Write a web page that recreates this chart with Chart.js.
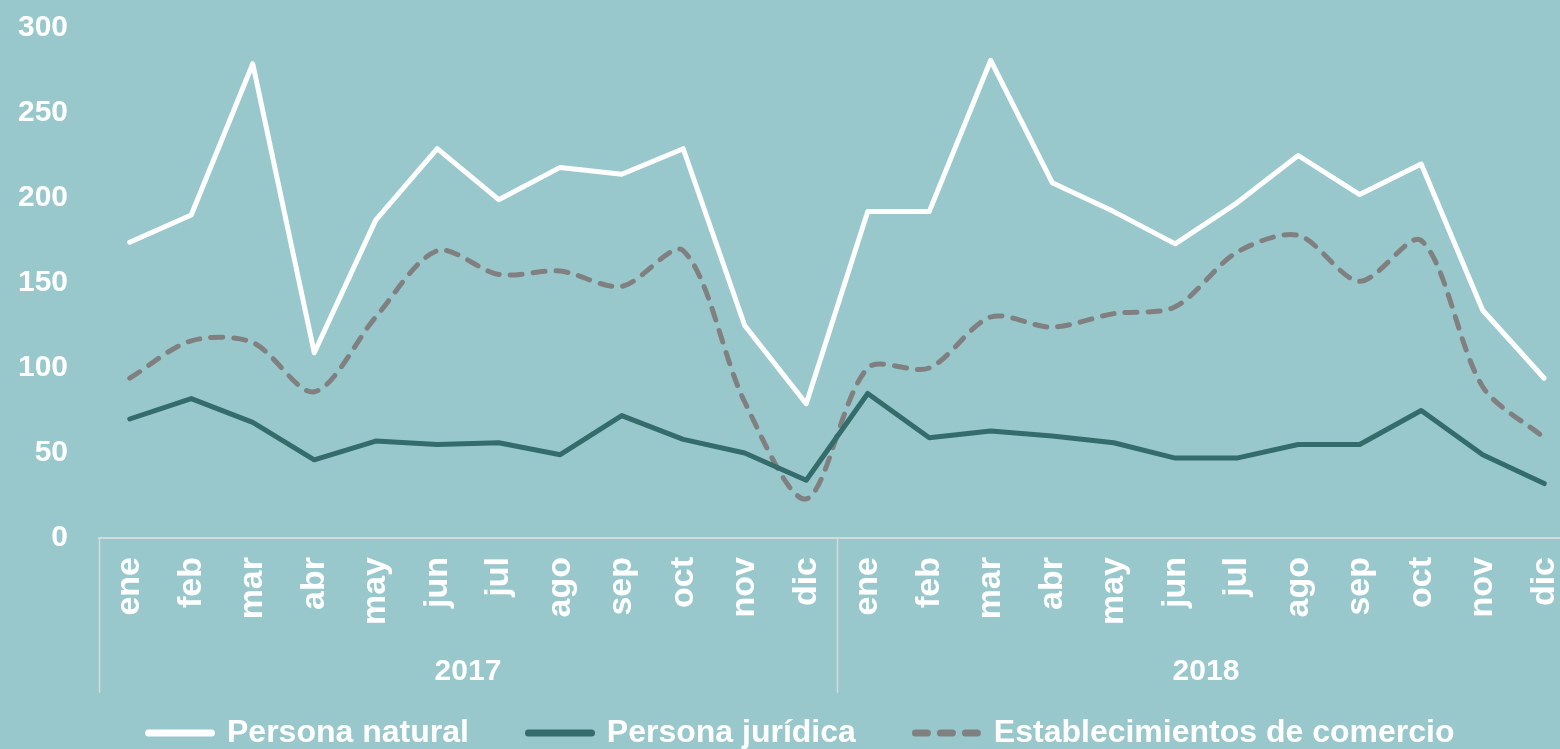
<!DOCTYPE html>
<html>
<head>
<meta charset="utf-8">
<script src="https://cdn.jsdelivr.net/npm/chart.js@4.4.1/dist/chart.umd.min.js"></script>
<style>
  html, body { margin: 0; padding: 0; background: #98C8CC; overflow: hidden; width: 1560px; height: 749px; }
  #wrap { width: 1585px; height: 749px; }
</style>
</head>
<body>
<div id="wrap"><canvas id="c" width="1585" height="749"></canvas></div>
<script>
const months = ['ene','feb','mar','abr','may','jun','jul','ago','sep','oct','nov','dic',
                'ene','feb','mar','abr','may','jun','jul','ago','sep','oct','nov','dic'];
const years = ['2017', '2018'];
const yTicks = [0, 50, 100, 150, 200, 250, 300];
const personaNatural = [174, 190, 279, 109, 187, 229, 199, 218, 214, 229, 125, 79,
                        192, 192, 281, 209, 192, 173, 197, 225, 202, 220, 134, 94];
const personaJuridica = [70, 82, 68, 46, 57, 55, 56, 49, 72, 58, 50, 34,
                         85, 59, 63, 60, 56, 47, 47, 55, 55, 75, 49, 32];
const establecimientos = [94, 116, 115, 86, 130, 169, 155, 157, 148, 169, 80, 23,
                          100, 100, 130, 124, 132, 136, 168, 178, 151, 175, 89, 59];

const FONT = "'Liberation Sans', Arial, sans-serif";
const AXIS_LINE = '#D6DADB';

// legend marker: a short thick line (solid or dashed)
function legendMarker(color, dash) {
  const c = document.createElement('canvas');
  c.width = 70; c.height = 10;
  const g = c.getContext('2d');
  g.strokeStyle = color;
  g.lineWidth = 7;
  g.lineCap = 'round';
  if (dash) g.setLineDash(dash);
  g.beginPath();
  g.moveTo(3.5, 5);
  g.lineTo(66.5, 5);
  g.stroke();
  return c;
}

const separators = {
  id: 'separators',
  afterLayout(chart) {
    const lg = chart.legend;
    if (!lg || !lg.lineWidths) return;
    const dy = 657 - lg.top;
    lg.top += dy; lg.bottom += dy;
    const pad = lg.options.labels.padding;
    const start = (lg.left + pad + lg.right - lg.lineWidths[0]) / 2;
    const dx = 149 - start;
    lg.left += dx; lg.right += dx;
  },
  afterDraw(chart) {
    const x = chart.scales.x;
    const x2 = chart.scales.x2;
    const ctx = chart.ctx;
    const top = chart.chartArea.bottom;
    const bottom = x2.top + 60;
    ctx.save();
    ctx.strokeStyle = AXIS_LINE;
    ctx.lineWidth = 1.5;
    [-0.5, 11.5, 23.5].forEach(v => {
      const px = Math.round(x.getPixelForValue(v)) + 0.5;
      ctx.beginPath();
      ctx.moveTo(px, top);
      ctx.lineTo(px, bottom);
      ctx.stroke();
    });
    ctx.restore();
  }
};

new Chart(document.getElementById('c'), {
  type: 'line',
  data: {
    labels: months,
    datasets: [
      {
        label: 'Persona natural',
        data: personaNatural,
        borderColor: '#FFFFFF',
        backgroundColor: '#FFFFFF',
        borderWidth: 5,
        borderCapStyle: 'round',
        borderJoinStyle: 'round',
        pointRadius: 0,
        pointHoverRadius: 0,
        tension: 0,
        fill: false
      },
      {
        label: 'Persona jurídica',
        data: personaJuridica,
        borderColor: '#346B6B',
        backgroundColor: '#346B6B',
        borderWidth: 5,
        borderCapStyle: 'round',
        borderJoinStyle: 'round',
        pointRadius: 0,
        pointHoverRadius: 0,
        tension: 0,
        fill: false
      },
      {
        label: 'Establecimientos de comercio',
        data: establecimientos,
        borderColor: '#808080',
        backgroundColor: '#808080',
        borderWidth: 5,
        borderDash: [12, 11],
        borderCapStyle: 'round',
        borderJoinStyle: 'round',
        pointRadius: 0,
        pointHoverRadius: 0,
        tension: 0.3,
        fill: false
      }
    ]
  },
  options: {
    responsive: false,
    animation: false,
    devicePixelRatio: 1,
    layout: { padding: { top: 28, bottom: -56, left: 0, right: 0 } },
    plugins: {
      tooltip: { enabled: false },
      legend: {
        position: 'bottom',
        labels: {
          usePointStyle: true,
          pointStyleWidth: 62,
          padding: 60,
          color: '#FFFFFF',
          font: { family: FONT, size: 32, weight: 'bold' },
          generateLabels(chart) {
            const items = Chart.defaults.plugins.legend.labels.generateLabels(chart);
            return items.map(it => {
              const ds = chart.data.datasets[it.datasetIndex];
              const dashed = ds.borderDash && ds.borderDash.length;
              it.pointStyle = legendMarker(ds.borderColor, dashed ? [12, 13] : null);
              return it;
            });
          }
        }
      }
    },
    scales: {
      x: {
        type: 'category',
        offset: true,
        weight: 0,
        grid: { display: true, drawOnChartArea: false, drawTicks: true, tickLength: 19, color: 'rgba(0,0,0,0)' },
        border: { display: true, color: AXIS_LINE, width: 2 },
        ticks: {
          color: '#FFFFFF',
          autoSkip: false,
          minRotation: 90,
          maxRotation: 90,
          padding: 0,
          font: { family: FONT, size: 34, weight: 'bold' }
        },
        afterFit(s) { s.height = 95; }
      },
      x2: {
        type: 'category',
        labels: years,
        position: 'bottom',
        display: true,
        offset: true,
        weight: 1,
        grid: { display: false, drawTicks: false },
        border: { display: false },
        ticks: {
          color: '#FFFFFF',
          maxRotation: 0,
          padding: 21,
          font: { family: FONT, size: 30, weight: 'bold' }
        },
        afterFit(s) { s.height = 70; }
      },
      y: {
        min: yTicks[0],
        max: yTicks[yTicks.length - 1],
        grid: { display: true, drawOnChartArea: false, drawTicks: true, tickLength: 21, color: 'rgba(0,0,0,0)' },
        border: { display: false },
        afterBuildTicks(s) { s.ticks = yTicks.map(v => ({ value: v })); },
        ticks: {
          color: '#FFFFFF',
          padding: 10,
          font: { family: FONT, size: 30, weight: 'bold' }
        },
        afterFit(s) { s.width = 99; }
      }
    }
  },
  plugins: [separators]
});
</script>
</body>
</html>
